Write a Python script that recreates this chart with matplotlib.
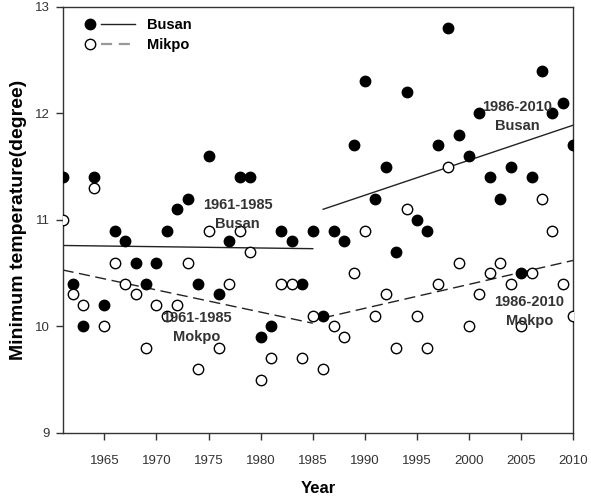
import matplotlib
matplotlib.use("Agg")
import matplotlib.pyplot as plt
from matplotlib.lines import Line2D
from matplotlib.legend_handler import HandlerTuple

plt.rcParams["font.family"] = ["Liberation Sans", "DejaVu Sans"]

years = list(range(1961, 2011))
busan = [11.4, 10.4, 10.0, 11.4, 10.2, 10.9, 10.8, 10.6, 10.4, 10.6,
         10.9, 11.1, 11.2, 10.4, 11.6, 10.3, 10.8, 11.4, 11.4, 9.9,
         10.0, 10.9, 10.8, 10.4, 10.9, 10.1, 10.9, 10.8, 11.7, 12.3,
         11.2, 11.5, 10.7, 12.2, 11.0, 10.9, 11.7, 12.8, 11.8, 11.6,
         12.0, 11.4, 11.2, 11.5, 10.5, 11.4, 12.4, 12.0, 12.1, 11.7]
mokpo = [11.0, 10.3, 10.2, 11.3, 10.0, 10.6, 10.4, 10.3, 9.8, 10.2,
         10.1, 10.2, 10.6, 9.6, 10.9, 9.8, 10.4, 10.9, 10.7, 9.5,
         9.7, 10.4, 10.4, 9.7, 10.1, 9.6, 10.0, 9.9, 10.5, 10.9,
         10.1, 10.3, 9.8, 11.1, 10.1, 9.8, 10.4, 11.5, 10.6, 10.0,
         10.3, 10.5, 10.6, 10.4, 10.0, 10.5, 11.2, 10.9, 10.4, 10.1]

# trend line end points
period1 = [1961, 1985]
period2 = [1986, 2010]
busan_trend1 = [10.76, 10.73]
mokpo_trend1 = [10.53, 10.03]
busan_trend2 = [11.10, 11.89]
mokpo_trend2 = [10.08, 10.62]

fig = plt.figure(figsize=(5.91, 4.97), dpi=100)
ax = fig.add_axes([0.106, 0.129, 0.864, 0.857])

ax.plot(period1, busan_trend1, color="#222222", lw=1.0)
ax.plot(period2, busan_trend2, color="#222222", lw=1.0)
ax.plot(period1, mokpo_trend1, color="#222222", lw=1.0, dashes=(8, 4))
ax.plot(period2, mokpo_trend2, color="#222222", lw=1.0, dashes=(8, 4))

ax.plot(years, busan, "o", ms=7.5, color="black", ls="none", zorder=3)
ax.plot(years, mokpo, "o", ms=7.5, mfc="white", mec="black", mew=1.0,
        ls="none", zorder=3)

txt = dict(ha="center", va="center", fontsize=10.5, fontweight="bold",
           color="#333333", linespacing=1.45)
ax.text(1977.8, 11.05, "1961-1985\nBusan", **txt)
ax.text(1973.9, 9.99, "1961-1985\nMokpo", **txt)
ax.text(2004.6, 11.97, "1986-2010\nBusan", **txt)
ax.text(2005.8, 10.14, "1986-2010\nMokpo", **txt)

dot_f = Line2D([], [], ls="none", marker="o", ms=7.5, mfc="black", mec="black")
dot_o = Line2D([], [], ls="none", marker="o", ms=7.5, mfc="white", mec="black")
ln_s = Line2D([], [], color="#222222", lw=1.0)
ln_d = Line2D([], [], color="#999999", lw=1.6, dashes=(5, 3))
ax.legend([(dot_f, ln_s), (dot_o, ln_d)], ["Busan", "Mikpo"],
          handler_map={tuple: HandlerTuple(ndivide=None, pad=-0.4)},
          loc="upper left", frameon=False,
          prop=dict(size=10.5, weight="bold"), handlelength=4.2,
          borderaxespad=0.35, labelspacing=0.4, handletextpad=0.8)

ax.set_xlim(1961, 2010)
ax.set_ylim(9, 13)
ax.set_xticks(range(1965, 2011, 5))
ax.set_yticks([9, 10, 11, 12, 13])
ax.tick_params(direction="out", length=5, width=1, labelsize=9.5,
               colors="#333333", pad=4)
ax.tick_params(axis="x", pad=11)
for s in ax.spines.values():
    s.set_color("#333333")
    s.set_linewidth(1.0)

ax.set_xlabel("Year", fontsize=12, fontweight="bold", labelpad=10)
ax.set_ylabel("Minimum temperature(degree)", fontsize=14, fontweight="bold",
              labelpad=6)

fig.savefig("out.png", dpi=100)
